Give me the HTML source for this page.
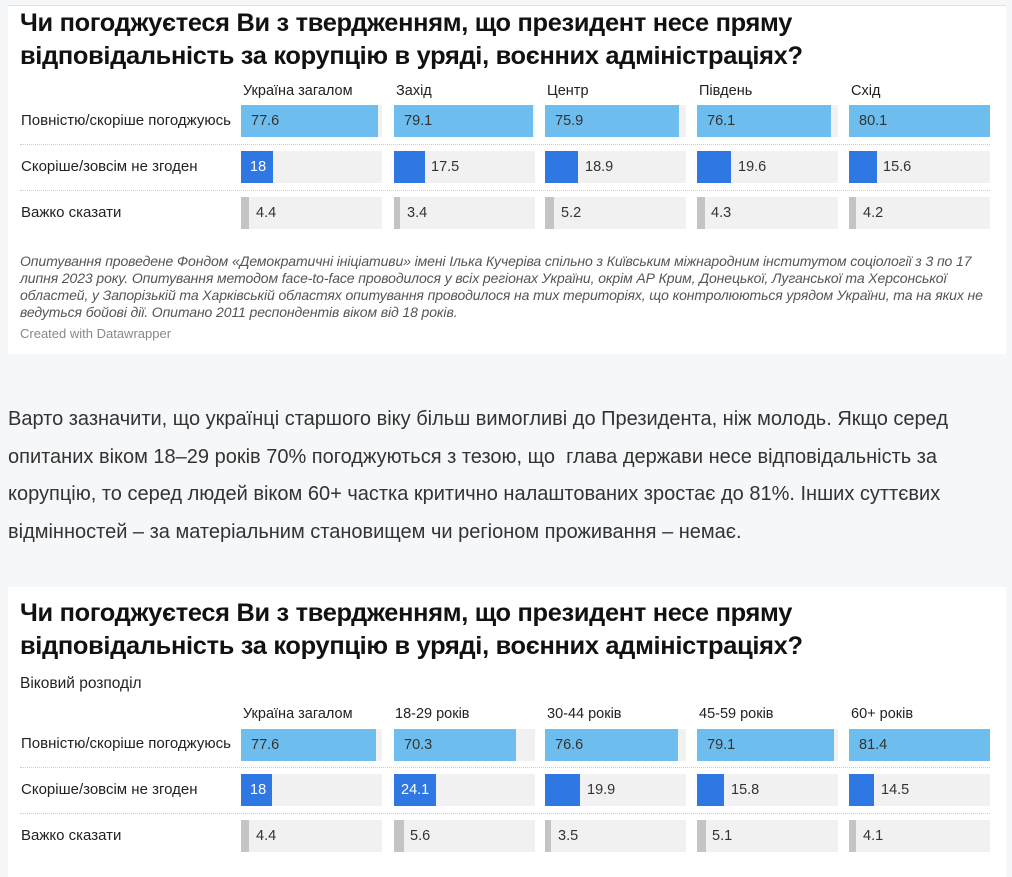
<!DOCTYPE html>
<html><head><meta charset="utf-8"><style>
body{margin:0;width:1012px;height:865px;background:#f6f7f9;position:relative;overflow:hidden;font-family:"Liberation Sans",Arial,sans-serif;color:#222}
.card{position:absolute;left:8px;width:998px;background:#fff}
.t{position:absolute;left:20px;font-weight:bold;font-size:25.4px;line-height:33px;color:#111;letter-spacing:-0.3px;white-space:nowrap}
.a{position:absolute;font-size:14.5px;color:#222;white-space:nowrap}
.r{font-size:15px}
.bg{position:absolute;width:141px;height:32px;background:#f1f1f1}
.b{position:absolute;left:0;top:0;height:32px}
.l1{background:#6dbdee}.d{background:#2f77e2}.g{background:#c4c4c4}
.v{position:absolute;top:8px;font-size:14.5px;line-height:16px;color:#333;white-space:nowrap}
.w{color:#fff}
.sep{position:absolute;left:20px;width:970px;border-top:1px dotted #ccc}
.note{position:absolute;left:20px;top:253px;font-style:italic;font-size:14px;line-height:17px;color:#555;letter-spacing:-0.1px;white-space:nowrap}
p.x{position:absolute;left:8px;margin:0;font-size:20px;line-height:37.5px;color:#333;white-space:nowrap}
</style></head><body>
<div class="card" style="top:5px;height:348px;border-top:1px solid #e3e3e3"></div>
<div class="t" style="top:7px">Чи погоджуєтеся Ви з твердженням, що президент несе пряму<br>відповідальність за корупцію в уряді, воєнних адміністраціях?</div>
<div class="a" style="left:243px;top:83px">Україна загалом</div>
<div class="a" style="left:396px;top:83px">Захід</div>
<div class="a" style="left:547px;top:83px">Центр</div>
<div class="a" style="left:699px;top:83px">Південь</div>
<div class="a" style="left:851px;top:83px">Схід</div>
<div class="a r" style="left:21px;top:112px">Повністю/скоріше погоджуюсь</div>
<div class="a r" style="left:21px;top:158px">Скоріше/зовсім не згоден</div>
<div class="a r" style="left:21px;top:204px">Важко сказати</div>
<div class="sep" style="top:144px"></div><div class="sep" style="top:190px"></div>

<div class="bg" style="left:241px;top:105px"><div class="b l1" style="width:137px"></div><span class="v" style="left:10px">77.6</span></div>
<div class="bg" style="left:394px;top:105px"><div class="b l1" style="width:139px"></div><span class="v" style="left:10px">79.1</span></div>
<div class="bg" style="left:545px;top:105px"><div class="b l1" style="width:134px"></div><span class="v" style="left:10px">75.9</span></div>
<div class="bg" style="left:697px;top:105px"><div class="b l1" style="width:134px"></div><span class="v" style="left:10px">76.1</span></div>
<div class="bg" style="left:849px;top:105px"><div class="b l1" style="width:141px"></div><span class="v" style="left:10px">80.1</span></div>

<div class="bg" style="left:241px;top:151px"><div class="b d" style="width:32px"></div><span class="v w" style="left:9px">18</span></div>
<div class="bg" style="left:394px;top:151px"><div class="b d" style="width:31px"></div><span class="v" style="left:37px">17.5</span></div>
<div class="bg" style="left:545px;top:151px"><div class="b d" style="width:33px"></div><span class="v" style="left:40px">18.9</span></div>
<div class="bg" style="left:697px;top:151px"><div class="b d" style="width:34px"></div><span class="v" style="left:41px">19.6</span></div>
<div class="bg" style="left:849px;top:151px"><div class="b d" style="width:28px"></div><span class="v" style="left:34px">15.6</span></div>

<div class="bg" style="left:241px;top:197px"><div class="b g" style="width:8px"></div><span class="v" style="left:15px">4.4</span></div>
<div class="bg" style="left:394px;top:197px"><div class="b g" style="width:6px"></div><span class="v" style="left:13px">3.4</span></div>
<div class="bg" style="left:545px;top:197px"><div class="b g" style="width:9px"></div><span class="v" style="left:16px">5.2</span></div>
<div class="bg" style="left:697px;top:197px"><div class="b g" style="width:8px"></div><span class="v" style="left:14px">4.3</span></div>
<div class="bg" style="left:849px;top:197px"><div class="b g" style="width:7px"></div><span class="v" style="left:14px">4.2</span></div>

<div class="note">Опитування проведене Фондом «Демократичні ініціативи» імені Ілька Кучеріва спільно з Київським міжнародним інститутом соціології з 3 по 17<br>липня 2023 року. Опитування методом face-to-face проводилося у всіх регіонах України, окрім АР Крим, Донецької, Луганської та Херсонської<br>областей, у Запорізькій та Харківській областях опитування проводилося на тих територіях, що контролюються урядом України, та на яких не<br>ведуться бойові дії. Опитано 2011 респондентів віком від 18 років.</div>
<div class="a" style="left:20px;top:326px;font-size:13px;color:#888">Created with Datawrapper</div>

<p class="x" style="top:401px">Варто зазначити, що українці старшого віку більш вимогливі до Президента, ніж молодь. Якщо серед<br>опитаних віком 18–29 років 70% погоджуються з тезою, що&nbsp; глава держави несе відповідальність за<br>корупцію, то серед людей віком 60+ частка критично налаштованих зростає до 81%. Інших суттєвих<br>відмінностей – за матеріальним становищем чи регіоном проживання – немає.</p>

<div class="card" style="top:587px;height:290px"></div>
<div class="t" style="top:597px">Чи погоджуєтеся Ви з твердженням, що президент несе пряму<br>відповідальність за корупцію в уряді, воєнних адміністраціях?</div>
<div class="a" style="left:20px;top:675px;font-size:15.5px">Віковий розподіл</div>
<div class="a" style="left:243px;top:706px">Україна загалом</div>
<div class="a" style="left:395px;top:706px">18-29 років</div>
<div class="a" style="left:547px;top:706px">30-44 років</div>
<div class="a" style="left:699px;top:706px">45-59 років</div>
<div class="a" style="left:851px;top:706px">60+ років</div>
<div class="a r" style="left:21px;top:735px">Повністю/скоріше погоджуюсь</div>
<div class="a r" style="left:21px;top:781px">Скоріше/зовсім не згоден</div>
<div class="a r" style="left:21px;top:827px">Важко сказати</div>
<div class="sep" style="top:767px"></div><div class="sep" style="top:813px"></div>

<div class="bg" style="left:241px;top:729px"><div class="b l1" style="width:135px"></div><span class="v" style="left:10px">77.6</span></div>
<div class="bg" style="left:394px;top:729px"><div class="b l1" style="width:122px"></div><span class="v" style="left:10px">70.3</span></div>
<div class="bg" style="left:545px;top:729px"><div class="b l1" style="width:133px"></div><span class="v" style="left:10px">76.6</span></div>
<div class="bg" style="left:697px;top:729px"><div class="b l1" style="width:137px"></div><span class="v" style="left:10px">79.1</span></div>
<div class="bg" style="left:849px;top:729px"><div class="b l1" style="width:141px"></div><span class="v" style="left:10px">81.4</span></div>

<div class="bg" style="left:241px;top:774px"><div class="b d" style="width:31px"></div><span class="v w" style="left:9px">18</span></div>
<div class="bg" style="left:394px;top:774px"><div class="b d" style="width:42px"></div><span class="v w" style="left:7px">24.1</span></div>
<div class="bg" style="left:545px;top:774px"><div class="b d" style="width:35px"></div><span class="v" style="left:42px">19.9</span></div>
<div class="bg" style="left:697px;top:774px"><div class="b d" style="width:27px"></div><span class="v" style="left:34px">15.8</span></div>
<div class="bg" style="left:849px;top:774px"><div class="b d" style="width:25px"></div><span class="v" style="left:32px">14.5</span></div>

<div class="bg" style="left:241px;top:820px"><div class="b g" style="width:8px"></div><span class="v" style="left:15px">4.4</span></div>
<div class="bg" style="left:394px;top:820px"><div class="b g" style="width:10px"></div><span class="v" style="left:16px">5.6</span></div>
<div class="bg" style="left:545px;top:820px"><div class="b g" style="width:6px"></div><span class="v" style="left:13px">3.5</span></div>
<div class="bg" style="left:697px;top:820px"><div class="b g" style="width:9px"></div><span class="v" style="left:15px">5.1</span></div>
<div class="bg" style="left:849px;top:820px"><div class="b g" style="width:7px"></div><span class="v" style="left:14px">4.1</span></div>
</body></html>
